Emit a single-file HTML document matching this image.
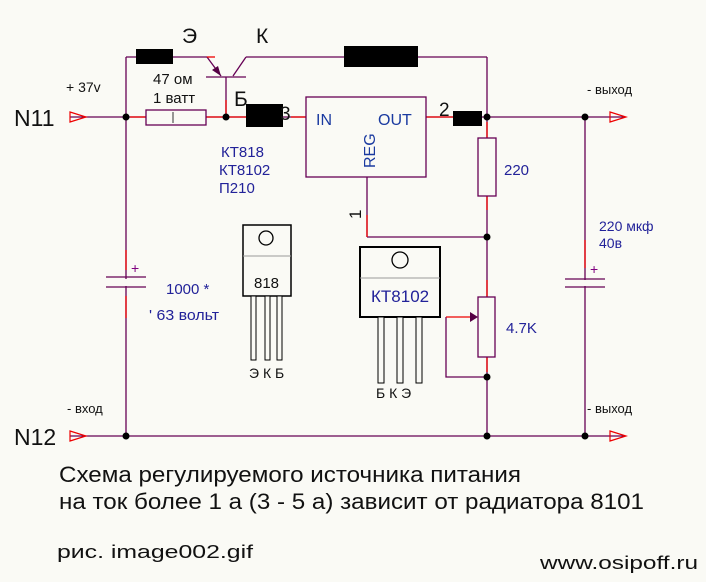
<!DOCTYPE html>
<html><head><meta charset="utf-8"><style>
html,body{margin:0;padding:0;background:#fafaf5;}
svg{display:block;font-family:"Liberation Sans","DejaVu Sans",sans-serif;}
</style></head><body>
<svg width="706" height="582" viewBox="0 0 706 582">
<rect width="706" height="582" fill="#fafaf5"/>
<g stroke="#660055" stroke-width="1.3" fill="none">
<line x1="70" y1="117" x2="625" y2="117"/>
<line x1="70" y1="436" x2="625" y2="436"/>
<line x1="126" y1="57" x2="126" y2="436"/>
<line x1="126" y1="57" x2="207" y2="57"/>
<line x1="246" y1="57" x2="487" y2="57"/>
<line x1="487" y1="57" x2="487" y2="436"/>
<line x1="585" y1="117" x2="585" y2="436"/>
<line x1="367" y1="177" x2="367" y2="237"/>
<line x1="367" y1="237" x2="487" y2="237"/>
<polyline points="446,317 446,377 487,377"/>
<line x1="206" y1="77" x2="246" y2="77"/>
<line x1="226" y1="77" x2="226" y2="117"/>
<line x1="207" y1="57" x2="221" y2="76"/>
<line x1="233" y1="76" x2="246" y2="57"/>
</g>
<g stroke="#ee0000" stroke-width="1.3">
<line x1="130" y1="117" x2="146" y2="117"/>
<line x1="206" y1="117" x2="246" y2="117"/>
<line x1="291" y1="117" x2="306" y2="117"/>
<line x1="426" y1="117" x2="455" y2="117"/>
<line x1="487" y1="122" x2="487" y2="138"/>
<line x1="487" y1="196" x2="487" y2="210"/>
<line x1="487" y1="280" x2="487" y2="297"/>
<line x1="487" y1="357" x2="487" y2="372"/>
<line x1="446" y1="317" x2="470" y2="317"/>
<line x1="126" y1="250" x2="126" y2="270"/>
<line x1="126" y1="296" x2="126" y2="318"/>
<line x1="585" y1="240" x2="585" y2="268"/>
<line x1="207" y1="57" x2="215" y2="57"/>
<line x1="226" y1="100" x2="226" y2="117"/>
<line x1="367" y1="215" x2="367" y2="237"/>
</g>
<g stroke="#ee0000" stroke-width="1.2" fill="none">
<polygon points="70,112 86,117 70,122"/>
<polygon points="70,431 86,436 70,441"/>
<polygon points="610,112 626,117 610,122"/>
<polygon points="610,431 626,436 610,441"/>
</g>
<g fill="#000">
<rect x="136" y="49" width="37" height="15"/>
<rect x="344" y="46" width="74" height="21"/>
<rect x="246" y="104" width="37" height="23"/>
<rect x="453" y="111" width="29" height="15"/>
<circle cx="126" cy="117" r="3.5"/><circle cx="226" cy="117" r="3.5"/>
<circle cx="487" cy="117" r="3.5"/><circle cx="585" cy="117" r="3.5"/>
<circle cx="487" cy="237" r="3.5"/><circle cx="487" cy="377" r="3.5"/>
<circle cx="126" cy="436" r="3.5"/><circle cx="487" cy="436" r="3.5"/><circle cx="585" cy="436" r="3.5"/>
</g>
<polygon points="221,76 212,70 218,66" fill="#550044"/>
<g stroke="#660055" stroke-width="1.3" fill="#fafaf5">
<rect x="146" y="110" width="60" height="15"/>
<rect x="478" y="138" width="18" height="58"/>
<rect x="478" y="297" width="17" height="60"/>
<rect x="306" y="97" width="120" height="80"/>
</g>
<line x1="173" y1="112" x2="173" y2="123" stroke="#333" stroke-width="1"/>
<polygon points="470,312 478,317 470,322" fill="#550044"/>
<g stroke="#660055" stroke-width="1.3">
<line x1="106" y1="277" x2="146" y2="277"/><line x1="106" y1="287" x2="146" y2="287"/>
<line x1="565" y1="279" x2="605" y2="279"/><line x1="565" y1="287" x2="605" y2="287"/>
</g>
<rect x="120" y="279" width="12" height="7" fill="#fafaf5"/>
<rect x="579" y="280" width="12" height="6" fill="#fafaf5"/>
<g fill="#800080" font-size="14"><text x="131" y="273">+</text><text x="590" y="274">+</text></g>
<g stroke="#000" fill="#fafaf5">
<rect x="243" y="225" width="48" height="71" stroke-width="1.5"/>
<line x1="243" y1="256" x2="291" y2="256" stroke="#999"/>
<circle cx="266" cy="238" r="7" stroke-width="1.3"/>
<rect x="251" y="296" width="5" height="64" stroke-width="1"/>
<rect x="265" y="296" width="5" height="64" stroke-width="1"/>
<rect x="277" y="296" width="5" height="64" stroke-width="1"/>
<rect x="360" y="247" width="80" height="70" stroke-width="2"/>
<line x1="360" y1="278" x2="440" y2="278" stroke="#999"/>
<circle cx="400" cy="260" r="8" stroke-width="1.3"/>
<rect x="378" y="317" width="6" height="66" stroke-width="1"/>
<rect x="397" y="317" width="6" height="66" stroke-width="1"/>
<rect x="416" y="317" width="6" height="66" stroke-width="1"/>
</g>
<g fill="#111">
<text x="14" y="126" font-size="23">N11</text>
<text x="14" y="445" font-size="23">N12</text>
<text x="182" y="43" font-size="21">Э</text>
<text x="256" y="43" font-size="21">К</text>
<text x="234" y="106" font-size="21">Б</text>
<text x="280" y="120" font-size="19">3</text>
<text x="439" y="116" font-size="19">2</text>
<text x="66" y="92" font-size="14">+ 37v</text>
<text x="153" y="84" font-size="15">47 ом</text>
<text x="153" y="103" font-size="15">1 ватт</text>
<text x="587" y="94" font-size="13">- выход</text>
<text x="587" y="413" font-size="13">- выход</text>
<text x="67" y="413" font-size="13">- вход</text>
<text x="254" y="288" font-size="15">818</text>
<text x="249" y="378" font-size="14">Э К Б</text>
<text x="376" y="398" font-size="14">Б К Э</text>
<text x="361" y="219" font-size="17" transform="rotate(-90 361 219)">1</text>
<text x="59" y="482" font-size="22" textLength="462" lengthAdjust="spacingAndGlyphs">Схема регулируемого источника питания</text>
<text x="59" y="509" font-size="22" textLength="585" lengthAdjust="spacingAndGlyphs">на ток более 1 а (3 - 5 а) зависит от радиатора 8101</text>
<text x="57" y="558" font-size="18" textLength="196" lengthAdjust="spacingAndGlyphs">рис.  image002.gif</text>
<text x="540" y="569" font-size="18" textLength="158" lengthAdjust="spacingAndGlyphs">www.osipoff.ru</text>
</g>
<g fill="#1a3aa0">
<text x="316" y="125" font-size="16">IN</text>
<text x="378" y="125" font-size="16">OUT</text>
<text x="375" y="168" font-size="16" transform="rotate(-90 375 168)">REG</text>
</g>
<g fill="#222299" font-size="15">
<text x="221" y="157">КТ818</text>
<text x="219" y="175">КТ8102</text>
<text x="219" y="193">П210</text>
<text x="504" y="175">220</text>
<text x="506" y="333">4.7K</text>
<text x="599" y="231" font-size="14">220 мкф</text>
<text x="599" y="248" font-size="14">40в</text>
<text x="166" y="294" font-size="15">1000 *</text>
<text x="149" y="320" font-size="15" textLength="70" lengthAdjust="spacingAndGlyphs">' 63 вольт</text>
<text x="371" y="302" font-size="17">КТ8102</text>
</g>
</svg>
</body></html>
